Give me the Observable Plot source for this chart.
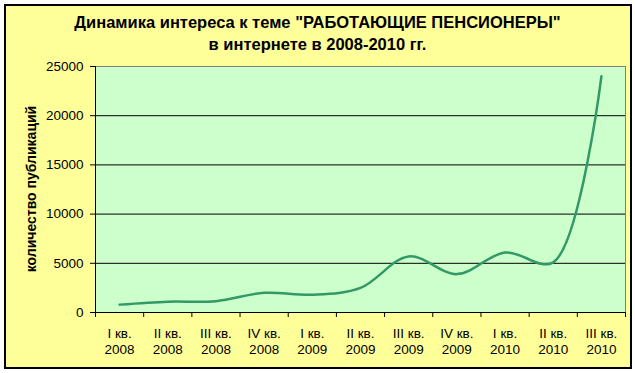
<!DOCTYPE html>
<html><head><meta charset="utf-8">
<script src="https://cdn.jsdelivr.net/npm/d3@7"></script>
<script src="https://cdn.jsdelivr.net/npm/@observablehq/plot@0.6"></script>
<style>
body{margin:0;background:#fff;}
#wrap{position:relative;width:635px;height:373px;overflow:hidden;background:#fff;}
#frame{position:absolute;left:4px;top:4px;width:628px;height:365px;box-sizing:border-box;border:2px solid #000;background:#FFFF99;}
#title{position:absolute;left:0;top:11px;width:635px;text-align:center;font:bold 16.5px "Liberation Sans",Arial,sans-serif;line-height:22px;color:#000;}
#ylabel{position:absolute;left:-68px;top:180px;width:200px;height:18px;line-height:18px;text-align:center;font:bold 14px "Liberation Sans",Arial,sans-serif;transform:rotate(-90deg);transform-origin:50% 50%;color:#000;}
#chart{position:absolute;left:0;top:0;}
</style></head>
<body>
<div id="wrap">
  <div id="frame"></div>
  <div id="chart"></div>
  <div id="title">Динамика интереса к теме "РАБОТАЮЩИЕ ПЕНСИОНЕРЫ"<br>в интернете в 2008-2010 гг.</div>
  <div id="ylabel">количество публикаций</div>
</div>
<script>
const quarters = ["I кв.","II кв.","III кв.","IV кв.","I кв.","II кв.","III кв.","IV кв.","I кв.","II кв.","III кв."];
const years = ["2008","2008","2008","2008","2009","2009","2009","2009","2010","2010","2010"];
const publications = [800, 1100, 1150, 2000, 1800, 2500, 5700, 3900, 6100, 5100, 24000];
const yTicks = [0, 5000, 10000, 15000, 20000, 25000];

const data = publications.map((v, i) => ({i, v}));
const centers = data.map(d => d.i);
const bounds = d3.range(0, quarters.length + 1).map(k => k - 0.5);

const chart = Plot.plot({
  width: 635, height: 373,
  marginLeft: 95, marginRight: 10, marginTop: 66, marginBottom: 61,
  style: {background: "transparent", fontFamily: "'Liberation Sans', Arial, sans-serif", fontSize: "13.5px", color: "#000"},
  x: {domain: [-0.5, quarters.length - 0.5], axis: null},
  y: {domain: [0, 25000], axis: null},
  marks: [
    Plot.frame({fill: "#CCFFCC", stroke: "#808080"}),
    Plot.gridY(yTicks.slice(1, -1), {stroke: "#000", strokeOpacity: 1}),
    Plot.ruleY([0], {stroke: "#000"}),
    Plot.ruleX([-0.5], {stroke: "#000"}),
    Plot.axisY(yTicks, {label: null, tickSize: 5, tickPadding: 7, tickFormat: d => String(d), fontSize: 13.5, fill: "#000", stroke: "#000"}),
    Plot.axisX(bounds, {label: null, tickSize: 5, tickFormat: () => "", stroke: "#000"}),
    Plot.axisX(centers, {label: null, tickSize: 0, tickPadding: 14, lineHeight: 1.2, fontSize: 13.5, fill: "#000",
      tickFormat: i => quarters[i] + "\n" + years[i]}),
    Plot.line(data, {x: "i", y: "v", stroke: "#339966", strokeWidth: 2.5, curve: "catmull-rom"})
  ]
});
document.getElementById("chart").appendChild(chart);
</script>
</body></html>
